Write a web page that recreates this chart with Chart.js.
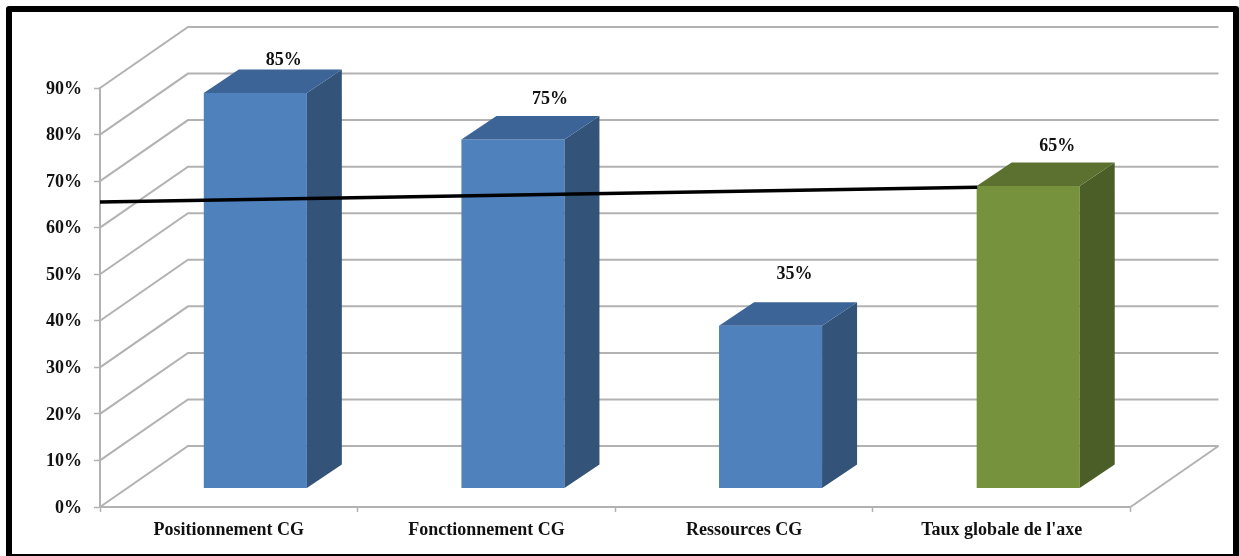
<!DOCTYPE html>
<html>
<head>
<meta charset="utf-8">
<title>Taux par axe</title>
<script src="https://cdn.jsdelivr.net/npm/chart.js@4/dist/chart.umd.min.js"></script>
<style>
    html, body { margin: 0; padding: 0; background: #fff; overflow: hidden; }
    #wrap { position: relative; width: 1239px; height: 556px; }
    #frame {
        position: absolute; left: 6px; top: 6px; right: 0; bottom: 0;
        border: solid #000; border-width: 6px 6px 2px 6px;
        border-radius: 3px 3px 0 0; pointer-events: none;
    }
</style>
</head>
<body>
<div id="wrap">
    <canvas id="chart" width="1239" height="556"></canvas>
    <div id="frame"></div>
</div>
<script>
const categories = ['Positionnement CG', 'Fonctionnement CG', 'Ressources CG', "Taux globale de l'axe"];
const values = [85, 75, 35, 65];
const trendX = [0, 3.405];
const trendY = [65.5, 68.7];
const yMax = 90;
const yStep = 10;

const frontColors = ['#4f81bd', '#4f81bd', '#4f81bd', '#76923c'];
const sideColors = ['#335379', '#335379', '#335379', '#4c5e27'];
const topColors = ['#3d6496', '#3d6496', '#3d6496', '#5c7030'];

const gridColor = '#b2b2b2';
const textColor = '#111';
const fontFamily = '"Liberation Serif", serif';

// 3D look: the back wall sits behind the axes, bars stand half way in
const wallDepth = { x: 88, y: -61 };
const barOffset = { x: 26.5, y: -18.4 };
const barDepth = { x: 35, y: -23.5 };
// label centre relative to the bar centre and the back edge of its top
const labelNudge = [[28.5, -9], [37, -16.5], [24, -28], [29, -16]];

const walls3d = {
    id: 'walls3d',
    beforeDatasetsDraw(chart) {
        const { ctx, chartArea, scales } = chart;
        ctx.save();
        ctx.strokeStyle = gridColor;
        ctx.lineWidth = 2;

        // grid lines: up the side wall, then along the back wall
        for (let v = 0; v <= yMax; v += yStep) {
            const y = scales.y.getPixelForValue(v);
            ctx.beginPath();
            ctx.moveTo(chartArea.left, y);
            ctx.lineTo(chartArea.left + wallDepth.x, y + wallDepth.y);
            ctx.lineTo(chartArea.right + wallDepth.x, y + wallDepth.y);
            ctx.stroke();
        }

        // right edge of the floor
        ctx.beginPath();
        ctx.moveTo(chartArea.right, chartArea.bottom);
        ctx.lineTo(chartArea.right + wallDepth.x, chartArea.bottom + wallDepth.y);
        ctx.stroke();
        ctx.restore();
    }
};

const bars3d = {
    id: 'bars3d',
    beforeDatasetDraw(chart, args) {
        if (args.meta.type !== 'bar') return;
        chart.ctx.save();
        chart.ctx.translate(barOffset.x, barOffset.y);
    },
    afterDatasetDraw(chart, args) {
        if (args.meta.type !== 'bar') return;
        const ctx = chart.ctx;
        ctx.restore();

        args.meta.data.forEach((bar, i) => {
            const left = bar.x - bar.width / 2 + barOffset.x;
            const right = bar.x + bar.width / 2 + barOffset.x;
            const top = bar.y + barOffset.y;
            const bottom = bar.base + barOffset.y;

            // side face
            ctx.fillStyle = sideColors[i];
            ctx.beginPath();
            ctx.moveTo(right, top);
            ctx.lineTo(right + barDepth.x, top + barDepth.y);
            ctx.lineTo(right + barDepth.x, bottom + barDepth.y);
            ctx.lineTo(right, bottom);
            ctx.closePath();
            ctx.fill();

            // top face
            ctx.fillStyle = topColors[i];
            ctx.beginPath();
            ctx.moveTo(left, top);
            ctx.lineTo(left + barDepth.x, top + barDepth.y);
            ctx.lineTo(right + barDepth.x, top + barDepth.y);
            ctx.lineTo(right, top);
            ctx.closePath();
            ctx.fill();

            // value label
            ctx.fillStyle = textColor;
            ctx.font = 'bold 18px ' + fontFamily;
            ctx.textAlign = 'center';
            ctx.textBaseline = 'middle';
            ctx.fillText(values[i] + '%',
                bar.x + barOffset.x + labelNudge[i][0],
                top + barDepth.y + labelNudge[i][1]);
        });
    }
};

new Chart(document.getElementById('chart').getContext('2d'), {
    data: {
        labels: categories,
        datasets: [
            {
                type: 'line',
                order: 0,
                xAxisID: 'trendAxis',
                data: trendX.map((x, i) => ({ x: x, y: trendY[i] })),
                borderColor: '#000',
                borderWidth: 3.5,
                pointRadius: 0,
                clip: false
            },
            {
                type: 'bar',
                order: 1,
                xAxisID: 'x',
                grouped: false,
                data: values,
                backgroundColor: frontColors,
                barPercentage: 0.4,
                categoryPercentage: 1,
                clip: false
            }
        ]
    },
    options: {
        responsive: false,
        animation: false,
        layout: { padding: { left: 0, right: 108.5, top: 88, bottom: 0 } },
        plugins: {
            legend: { display: false },
            tooltip: { enabled: false },
            title: { display: false }
        },
        scales: {
            x: {
                type: 'category',
                afterFit: scale => { scale.height = 49; },
                border: { color: gridColor, width: 2 },
                grid: { drawOnChartArea: false, color: gridColor, tickLength: 5, tickWidth: 1.5 },
                ticks: {
                    color: textColor,
                    padding: 8,
                    maxRotation: 0,
                    font: { family: fontFamily, size: 18, weight: 'bold' }
                }
            },
            y: {
                min: 0,
                max: yMax,
                afterFit: scale => { scale.width = 100; },
                border: { color: gridColor, width: 2 },
                grid: { drawOnChartArea: false, color: gridColor, tickLength: 6, tickWidth: 1.5 },
                ticks: {
                    stepSize: yStep,
                    color: textColor,
                    padding: 12,
                    labelOffset: 1,
                    callback: value => value + '%',
                    font: { family: fontFamily, size: 18, weight: 'bold' }
                }
            },
            trendAxis: {
                type: 'linear',
                axis: 'x',
                display: false,
                min: 0,
                max: categories.length
            }
        }
    },
    plugins: [walls3d, bars3d]
});
</script>
</body>
</html>
